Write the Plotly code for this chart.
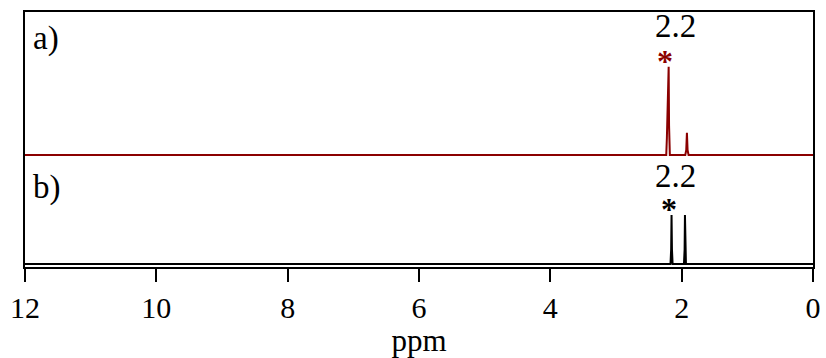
import plotly.graph_objects as go

# Spectrum a) (red), intensities relative to its own baseline
ppm_a = [12.0, 2.235, 2.225, 2.215, 2.205, 2.198, 2.192, 2.180, 1.945, 1.930, 1.920, 1.910, 1.895, 0.0]
int_a = [0.0, 0.0, 0.35, 1.06, 1.10, 1.80, 0.60, 0.0, 0.0, 0.10, 0.45, 0.10, 0.0, 0.0]

# Spectrum b) (black)
ppm_b = [12.0, 2.170, 2.160, 2.154, 2.148, 2.138, 1.965, 1.955, 1.950, 1.944, 1.935, 0.0]
int_b = [0.0, 0.0, 0.30, 1.00, 0.30, 0.0, 0.0, 0.30, 1.00, 0.30, 0.0, 0.0]

offset_a = 2.224
offset_b = 0.0

tick_vals = [12, 10, 8, 6, 4, 2, 0]
tick_text = ["12", "10", "8", "6", "4", "2", "0"]

peak_label = "2.2"
label_ppm = 2.10
star_ppm_a = 2.26
star_ppm_b = 2.20

fig = go.Figure()
fig.add_trace(go.Scatter(x=ppm_a, y=[v + offset_a for v in int_a], mode="lines",
                         line=dict(color="#8B0000", width=2), showlegend=False))
fig.add_trace(go.Scatter(x=ppm_b, y=[v + offset_b for v in int_b], mode="lines",
                         line=dict(color="black", width=2), showlegend=False))

font = "Liberation Serif, Times New Roman, serif"

ann = []
ann.append(dict(x=0.0, xref="paper", xanchor="left", xshift=6, y=4.59, yref="y", yanchor="middle",
                text="a)", showarrow=False, font=dict(family=font, size=33, color="black")))
ann.append(dict(x=0.0, xref="paper", xanchor="left", xshift=6, y=1.57, yref="y", yanchor="middle",
                text="b)", showarrow=False, font=dict(family=font, size=33, color="black")))
ann.append(dict(x=label_ppm, y=4.85, yref="y", yanchor="middle",
                text=peak_label, showarrow=False, font=dict(family=font, size=33, color="black")))
ann.append(dict(x=star_ppm_a, y=4.14, yref="y", yanchor="middle",
                text="<b>*</b>", showarrow=False, font=dict(family=font, size=32, color="#8B0000")))
ann.append(dict(x=label_ppm, y=1.79, yref="y", yanchor="middle",
                text=peak_label, showarrow=False, font=dict(family=font, size=33, color="black")))
ann.append(dict(x=star_ppm_b, y=1.12, yref="y", yanchor="middle",
                text="<b>*</b>", showarrow=False, font=dict(family=font, size=32, color="black")))

fig.update_layout(
    width=826, height=358,
    margin=dict(l=25, r=13, t=12, b=91),
    paper_bgcolor="white", plot_bgcolor="white",
    annotations=ann,
    xaxis=dict(range=[12, 0], tickvals=tick_vals, ticktext=tick_text, automargin=False,
               ticks="outside", ticklen=13, tickwidth=2, tickcolor="black",
               showline=True, linecolor="black", linewidth=2, mirror=True,
               showgrid=False, zeroline=False,
               tickfont=dict(family=font, size=30, color="black"),
               title=dict(text="ppm", font=dict(family=font, size=31, color="black"), standoff=5)),
    yaxis=dict(range=[-0.061, 5.14], showticklabels=False, ticks="", automargin=False,
               showline=True, linecolor="black", linewidth=2, mirror=True,
               showgrid=False, zeroline=False),
)

fig.write_html("out.html")
